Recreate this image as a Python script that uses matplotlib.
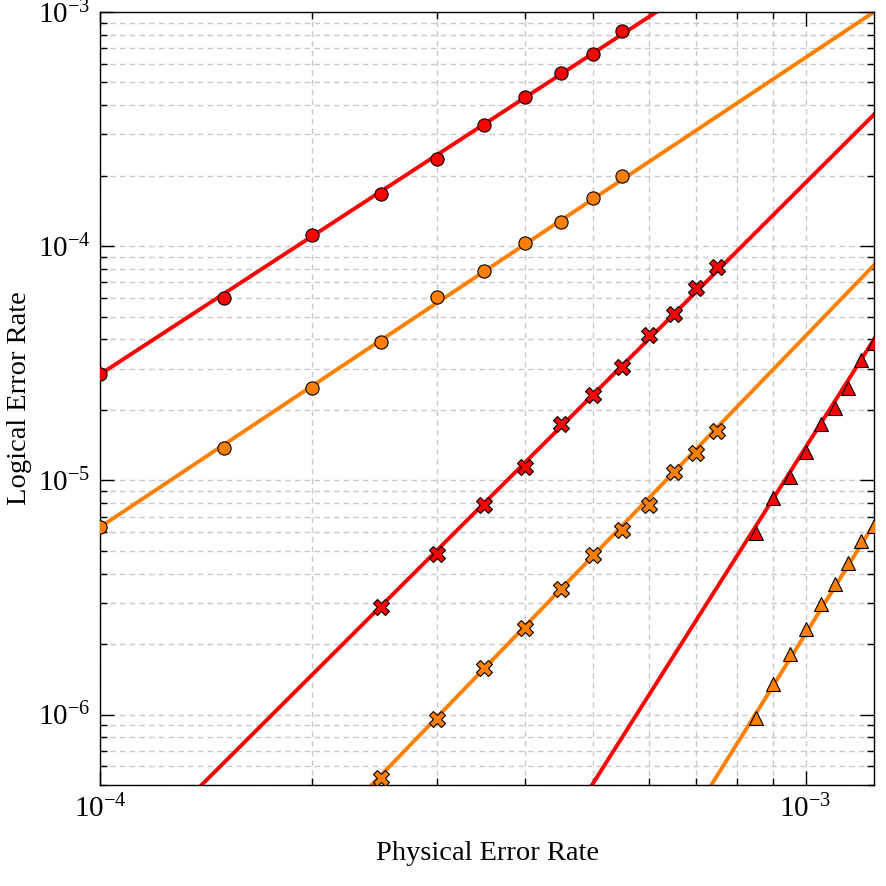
import numpy as np
import matplotlib
matplotlib.use("Agg")
import matplotlib.pyplot as plt
from matplotlib.ticker import LogLocator, NullFormatter

plt.rcParams['font.family'] = 'serif'
plt.rcParams['font.serif'] = ['Liberation Serif', 'DejaVu Serif']
plt.rcParams['mathtext.fontset'] = 'stix'

# Physical error rates of the samples
p_circ = [1.0e-4, 1.5e-4, 2.0e-4, 2.5e-4, 3.0e-4, 3.5e-4, 4.0e-4, 4.5e-4, 5.0e-4, 5.5e-4]
p_cross = [2.5e-4, 3.0e-4, 3.5e-4, 4.0e-4, 4.5e-4, 5.0e-4, 5.5e-4, 6.0e-4, 6.5e-4, 7.0e-4, 7.5e-4]
p_tri = [0.85e-3, 0.90e-3, 0.95e-3, 1.00e-3, 1.05e-3, 1.10e-3, 1.15e-3, 1.20e-3, 1.25e-3]

# Logical error rates
red_circ = [2.835e-5, 5.98e-5, 1.111e-4, 1.678e-4, 2.366e-4, 3.305e-4, 4.35e-4, 5.51e-4, 6.64e-4, 8.32e-4]
orange_circ = [6.31e-6, 1.371e-5, 2.47e-5, 3.88e-5, 6.04e-5, 7.80e-5, 1.027e-4, 1.274e-4, 1.60e-4, 2.00e-4]
red_cross = [2.874e-6, 4.84e-6, 7.83e-6, 1.137e-5, 1.735e-5, 2.31e-5, 3.04e-5, 4.16e-5, 5.11e-5, 6.60e-5, 8.11e-5]
orange_cross = [5.36e-7, 9.57e-7, 1.579e-6, 2.34e-6, 3.43e-6, 4.79e-6, 6.12e-6, 7.83e-6, 1.083e-5, 1.305e-5, 1.62e-5]
red_tri = [5.96e-6, 8.40e-6, 1.029e-5, 1.32e-5, 1.74e-5, 2.04e-5, 2.48e-5, 3.27e-5, 3.86e-5]
orange_tri = [9.64e-7, 1.35e-6, 1.81e-6, 2.32e-6, 2.96e-6, 3.61e-6, 4.43e-6, 5.49e-6, 6.36e-6]

# fit lines, end points
fit_red_circ = ([1.0e-4, 6.145e-4], [2.835e-5, 1.0e-3])
fit_orange_circ = ([1.0e-4, 1.25e-3], [6.31e-6, 1.0e-3])
fit_red_cross = ([1.393e-4, 1.25e-3], [5.0e-7, 3.65e-4])
fit_orange_cross = ([2.426e-4, 1.25e-3], [5.0e-7, 8.3e-5])
fit_red_tri = ([4.98e-4, 1.25e-3], [5.0e-7, 4.0e-5])
fit_orange_tri = ([7.35e-4, 1.25e-3], [5.0e-7, 6.5e-6])

RED = '#ff0000'
ORANGE = '#ff8000'

fig, ax = plt.subplots(figsize=(8.86, 8.86), dpi=100)
fig.subplots_adjust(left=100/886, right=874/886, top=1-12/886, bottom=1-785/886)

series = [
    (fit_red_circ, p_circ, red_circ, RED, 'o', 9.5),
    (fit_orange_circ, p_circ, orange_circ, ORANGE, 'o', 9.5),
    (fit_red_cross, p_cross, red_cross, RED, 'X', 11),
    (fit_orange_cross, p_cross, orange_cross, ORANGE, 'X', 11),
    (fit_red_tri, p_tri, red_tri, RED, '^', 10),
    (fit_orange_tri, p_tri, orange_tri, ORANGE, '^', 10),
]
for fit, px, py, col, mk, ms in series:
    ax.plot(fit[0], fit[1], color=col, lw=2.8, zorder=2)
    ax.plot(px, py, ls='none', marker=mk, ms=ms, mfc=col, mec='black', mew=0.8, zorder=3)

ax.set_xscale('log')
ax.set_yscale('log')
ax.set_xlim(1e-4, 1.25e-3)
ax.set_ylim(5e-7, 1e-3)

ax.xaxis.set_minor_locator(LogLocator(base=10, subs=np.arange(2, 10)))
ax.yaxis.set_minor_locator(LogLocator(base=10, subs=np.arange(2, 10)))
ax.xaxis.set_minor_formatter(NullFormatter())
ax.yaxis.set_minor_formatter(NullFormatter())

ax.tick_params(which='both', direction='in', top=True, right=True, labelsize=21, pad=7)
ax.tick_params(which='major', length=10, width=1)
ax.tick_params(which='minor', length=5, width=1)

ax.grid(True, which='both', color='#c8c8c8', ls=(0, (4, 3)), lw=1, zorder=0)
ax.set_axisbelow(True)

for s in ax.spines.values():
    s.set_linewidth(1)

ax.set_xlabel('Physical Error Rate', fontsize=20.5, labelpad=13)
ax.set_ylabel('Logical Error Rate', fontsize=20.5, labelpad=4)

fig.savefig('out.png', dpi=100)
